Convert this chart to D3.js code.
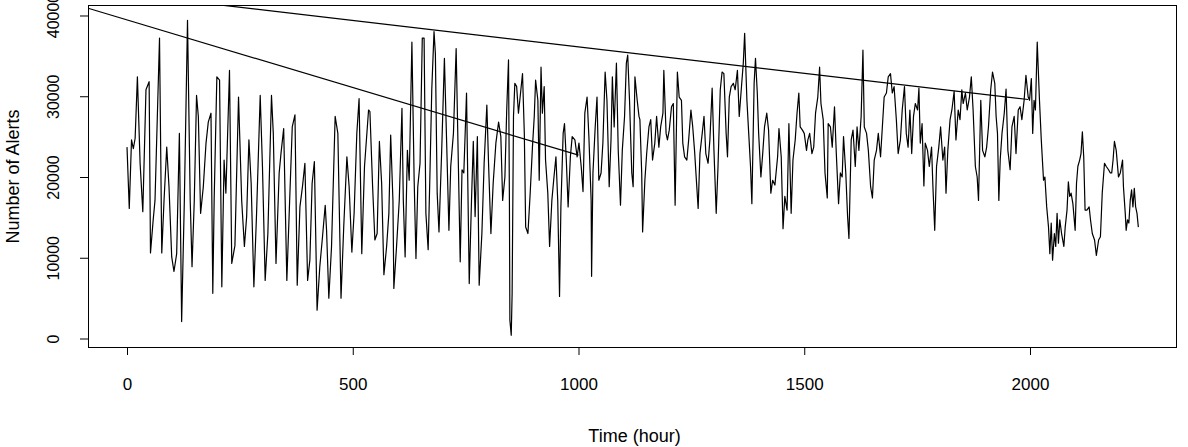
<!DOCTYPE html>
<html>
<head>
<meta charset="utf-8">
<script src="https://cdn.jsdelivr.net/npm/d3@7"></script>
<style>
  html, body { margin: 0; padding: 0; background: #fff; }
  svg { display: block; }
  text { font-family: "Liberation Sans", Arial, sans-serif; fill: #000; }
</style>
</head>
<body>
<div id="chart"></div>
<script>
// hourly alert counts as [hour, alerts]
const alertSeries = [
  [0,23700],[5,16100],[10,24600],[14,23500],[18,24800],[23,32400],[29,21700],[35,15700],[42,30800],[49,31800],
  [52,10600],[58,14700],[62,17100],[72,37200],[77,10600],[82,17100],[88,23700],[93,18800],[99,10100],[104,8300],
  [110,10500],[116,25400],[121,2100],[127,17100],[134,39400],[140,17100],[144,8900],[149,17100],[154,30100],[158,27500],
  [163,15500],[169,18800],[175,24200],[180,26800],[186,27900],[190,5600],[193,17100],[199,32400],[205,32000],[210,6400],
  [215,22100],[219,18000],[227,33200],[232,9300],[239,11500],
  [247,29900],[254,17100],[260,11400],[265,15100],[270,24600],[275,19200],[281,6400],[287,15500],[295,30100],[300,21300],
  [306,7200],[312,13000],[320,30100],[324,25400],[330,9300],[337,20500],[341,22900],[347,26000],[354,7200],[359,15100],
  [366,26200],[372,27700],[377,6600],[383,16300],[389,19000],[394,21700],[400,7200],[405,9700],[410,19200],[415,21900],
  [421,3500],[427,8900],[433,12600],[439,16500],[442,13400],[447,5000],[453,11400],[461,27500],[467,25400],[474,5000],
  [480,13800],[487,22500],[492,18800],[498,10700],[503,15500],[509,25400],[514,29700],[520,10500],[526,21300],[535,28300],
  [538,28100],[544,18800],[549,12200],[554,13000],[559,24400],[564,19200],[569,7900],[575,11400],[580,15500],[584,25200],
  [589,17100],[591,6200],[597,11400],[603,17100],[609,28500],[612,17100],[616,10100],[621,23300],[625,19600],[631,36700],
  [636,19600],[640,9900],[644,18800],[649,21700],[654,37200],[658,37200],[662,15500],[667,11000],[671,20500],[675,30800],
  [680,38000],[683,35300],[687,18000],[691,13200],[697,23300],[703,34700],[708,24200],[713,13400],[717,21300],[723,25400],
  [729,35900],[734,21300],[738,9500],[742,20900],[746,20500],[752,30400],[758,6800],[763,17100],[767,24400],[771,15100],
  [776,25000],[780,6600],[786,13000],[791,21700],[797,28900],[801,21300],[806,13000],[811,19200],[817,24200],[823,26800],
  [828,25000],[832,17100],[837,20000],
  [841,28300],[845,34500],[847,17100],[848,2300],[851,400],[853,5600],[856,27500],[859,31600],[863,31200],[867,27900],
  [870,29500],[876,32800],[880,25400],[883,13800],[888,13000],[893,18000],[898,23700],[902,27500],[905,32000],[910,29500],
  [913,19600],[917,33600],[920,27900],[924,31200],[927,22100],[932,18000],[936,11400],[941,17100],[945,19600],[950,22500],
  [954,17100],[958,5200],[961,16300],[966,25400],[969,26600],[973,22100],[977,16300],[982,22500],[986,25000],[992,24600],
  [997,22500],[1001,24200],[1006,21300],[1010,18200],[1014,27900],[1019,29900],[1023,25000],[1028,17100],[1029,7700],[1032,20500],
  [1037,26200],[1041,29900],[1045,19600],[1050,20500],[1054,24200],[1059,33000],[1063,29500],[1068,18800],[1072,24600],[1075,32400],
  [1079,26200],[1084,34100],[1088,23300],[1093,16500],[1097,23300],[1102,27500],[1106,34100],[1109,35100],[1113,29500],[1118,20500],
  [1121,18800],[1125,32400],[1130,29500],[1134,27500],
  [1136,27100],[1140,20500],[1142,13200],[1147,19600],[1151,22900],[1156,26200],[1160,27100],[1164,22100],[1169,24200],[1173,27500],
  [1178,23700],[1182,26200],[1187,27900],[1189,33200],[1194,25400],[1197,24600],[1201,25800],[1206,28700],[1210,29100],[1214,16500],
  [1219,33000],[1223,29900],[1228,29500],[1231,24200],[1235,22500],[1240,22100],[1244,24600],[1249,28300],[1253,26200],[1257,23300],
  [1262,18800],[1265,16100],[1269,22900],[1274,25400],[1278,27500],[1282,22900],[1287,21700],[1291,24600],[1296,31000],[1300,23300],
  [1305,15500],[1309,21300],[1314,30800],[1318,33000],[1322,32800],[1327,25400],[1330,22500],[1334,29900],[1338,31200],[1343,31600],
  [1347,30800],[1352,33200],[1356,27500],[1361,31200],[1365,34100],[1368,37800],[1373,29500],[1377,25400],[1381,21300],[1384,16700],
  [1389,31600],[1392,34700],[1396,30400],[1399,25400],[1404,20000],[1408,22900],[1412,26200],[1417,27900],[1421,25800],[1426,18000],
  [1430,19600],[1435,19000],
  [1441,22500],[1444,26000],[1449,22500],[1453,13600],[1457,17600],[1462,15900],[1466,26600],[1471,15500],[1475,22100],[1480,24600],
  [1484,27900],[1488,30400],[1491,26200],[1496,25800],[1500,25400],[1505,23300],[1508,24600],[1512,25400],[1517,22900],[1521,23700],
  [1525,27900],[1530,29900],[1534,33600],[1537,29100],[1542,27100],[1546,20500],[1551,17400],[1553,26600],[1558,26200],[1562,23700],
  [1567,28700],[1571,22900],[1576,16700],[1580,20500],[1584,20000],[1587,25000],[1592,20500],[1596,15100],[1599,12400],[1604,24600],
  [1608,25800],[1613,21300],[1617,26200],[1621,23300],[1626,27500],[1630,35700],[1633,26200],[1638,25400],[1642,23300],[1647,18800],
  [1651,17400],[1655,22100],[1660,23300],[1664,25400],[1669,22500],[1673,26200],[1677,29900],[1682,30400],[1686,32400],[1691,32800],
  [1695,30400],[1699,31200],[1704,27100],[1708,22900],[1713,24600],[1717,28300],[1722,31200],[1726,25400],[1730,23700],
  [1734,28300],[1738,22900],[1742,27500],[1746,29100],[1751,28300],[1754,31000],[1757,24200],[1761,26600],[1765,18900],[1768,24200],
  [1773,23300],[1777,21300],[1782,23700],[1785,18800],[1789,13400],[1793,21300],[1798,23700],[1802,26200],[1807,22100],[1811,23700],
  [1814,18000],[1818,23300],[1823,27100],[1827,28300],[1832,30600],[1836,24600],[1841,28300],[1845,27100],[1849,30800],[1852,29100],
  [1857,30400],[1861,28300],[1866,29900],[1870,32400],[1874,28300],[1879,21300],[1883,20000],[1886,17100],[1891,29500],[1895,23300],
  [1900,22500],[1904,23700],[1908,26200],[1913,30800],[1917,33000],[1922,31600],[1925,27500],[1928,25400],[1931,17100],[1934,22100],
  [1938,25400],[1943,27900],[1947,30900],[1951,23300],[1956,20900],[1960,26200],[1965,27500],[1969,22900],[1974,28300],[1978,28700],
  [1982,27100],[1987,29500],[1991,32600],[1996,29900],[1999,29500],[2003,32200],[2006,25400],[2009,29500],[2012,28300],[2016,36700],
  [2021,29500],[2025,24600],[2030,19600],
  [2033,20000],[2037,16300],[2041,13800],[2044,10500],[2047,14300],[2050,9700],[2054,13000],[2057,11400],[2060,15500],[2063,11800],
  [2066,14700],[2070,13000],[2075,11400],[2078,13800],[2082,15900],[2085,19400],[2088,17600],[2091,18000],[2095,16700],[2100,13400],
  [2103,19200],[2106,21300],[2110,22100],[2113,22900],[2116,25600],[2119,22500],[2122,15900],[2126,15900],[2131,16300],[2134,14700],
  [2138,13000],[2143,12200],[2147,10300],[2152,12200],[2156,12600],[2160,18000],[2165,21700],[2169,21300],[2174,20900],[2178,20500],
  [2181,20500],[2184,22100],[2187,24400],[2191,23300],[2196,20000],[2200,20500],[2205,22100],[2207,18800],[2211,15500],[2213,13400],
  [2216,14700],[2219,14300],[2222,17100],[2225,18400],[2228,16300],[2231,18600],[2234,16300],[2237,15500],[2240,13800]
];

// the two straight segments that run down from the top of the frame
const segmentHours1 = [-86, 1000];
const segmentAlerts1 = [40900, 22700];
const segmentHours2 = [200, 1996];
const segmentAlerts2 = [41350, 29600];

const xTicks = [0, 500, 1000, 1500, 2000];
const yTicks = [0, 10000, 20000, 30000, 40000];
const xTitle = 'Time (hour)';
const yTitle = 'Number of Alerts';

const width = 1188;
const height = 447;
const plot = { left: 88, right: 1177, top: 5, bottom: 348 };
const fontStack = '"Liberation Sans", Arial, sans-serif';

const svg = d3.select('#chart').append('svg')
  .attr('width', width)
  .attr('height', height);

const x = d3.scaleLinear()
  .domain([-86.4, 2325.6])
  .range([plot.left, plot.right]);

const y = d3.scaleLinear()
  .domain([-1176, 41300])
  .range([plot.bottom, plot.top]);

svg.append('clipPath')
    .attr('id', 'plotClip')
  .append('rect')
    .attr('x', plot.left)
    .attr('y', plot.top)
    .attr('width', plot.right - plot.left)
    .attr('height', plot.bottom - plot.top);

const line = d3.line()
  .x(d => x(d[0]))
  .y(d => y(d[1]));

const marks = svg.append('g').attr('clip-path', 'url(#plotClip)');

marks.append('path')
  .datum(alertSeries)
  .attr('d', line)
  .attr('fill', 'none')
  .attr('stroke', '#000')
  .attr('stroke-width', 1.2)
  .attr('stroke-linejoin', 'round');

[[segmentHours1, segmentAlerts1], [segmentHours2, segmentAlerts2]].forEach(([hs, vs]) => {
  marks.append('path')
    .datum(hs.map((h, i) => [h, vs[i]]))
    .attr('d', line)
    .attr('fill', 'none')
    .attr('stroke', '#000')
    .attr('stroke-width', 1.2);
});

// frame
svg.append('rect')
  .attr('x', plot.left + 0.5)
  .attr('y', plot.top + 0.5)
  .attr('width', plot.right - plot.left - 1)
  .attr('height', plot.bottom - plot.top - 1)
  .attr('fill', 'none')
  .attr('stroke', '#000')
  .attr('stroke-width', 1);

// x axis
const xAxis = svg.append('g')
  .attr('transform', `translate(0,${plot.bottom})`)
  .call(d3.axisBottom(x).tickValues(xTicks).tickSize(7).tickSizeOuter(0).tickFormat(d3.format('d')));
xAxis.select('.domain').remove();
xAxis.selectAll('line').attr('stroke', '#000');
xAxis.selectAll('text')
  .attr('y', 36)
  .attr('dy', '0.35em')
  .style('font-size', '17px')
  .style('font-family', fontStack)
  .attr('fill', '#000');

// y axis, labels turned as in base R
const yAxis = svg.append('g')
  .attr('transform', `translate(${plot.left},0)`)
  .call(d3.axisLeft(y).tickValues(yTicks).tickSize(8).tickSizeOuter(0).tickFormat(d3.format('d')));
yAxis.select('.domain').remove();
yAxis.selectAll('line').attr('stroke', '#000');
yAxis.selectAll('text')
  .attr('x', null)
  .attr('transform', 'translate(-35,0) rotate(-90)')
  .attr('text-anchor', 'middle')
  .attr('dy', '0.35em')
  .style('font-size', '16px')
  .style('font-family', fontStack)
  .attr('fill', '#000');

svg.append('text')
  .attr('x', (plot.left + plot.right) / 2 + 2)
  .attr('y', 436)
  .attr('dy', '0.35em')
  .attr('text-anchor', 'middle')
  .style('font-size', '18px')
  .text(xTitle);

svg.append('text')
  .attr('transform', `translate(13,${(plot.top + plot.bottom) / 2}) rotate(-90)`)
  .attr('dy', '0.35em')
  .attr('text-anchor', 'middle')
  .style('font-size', '18px')
  .text(yTitle);
</script>
</body>
</html>
